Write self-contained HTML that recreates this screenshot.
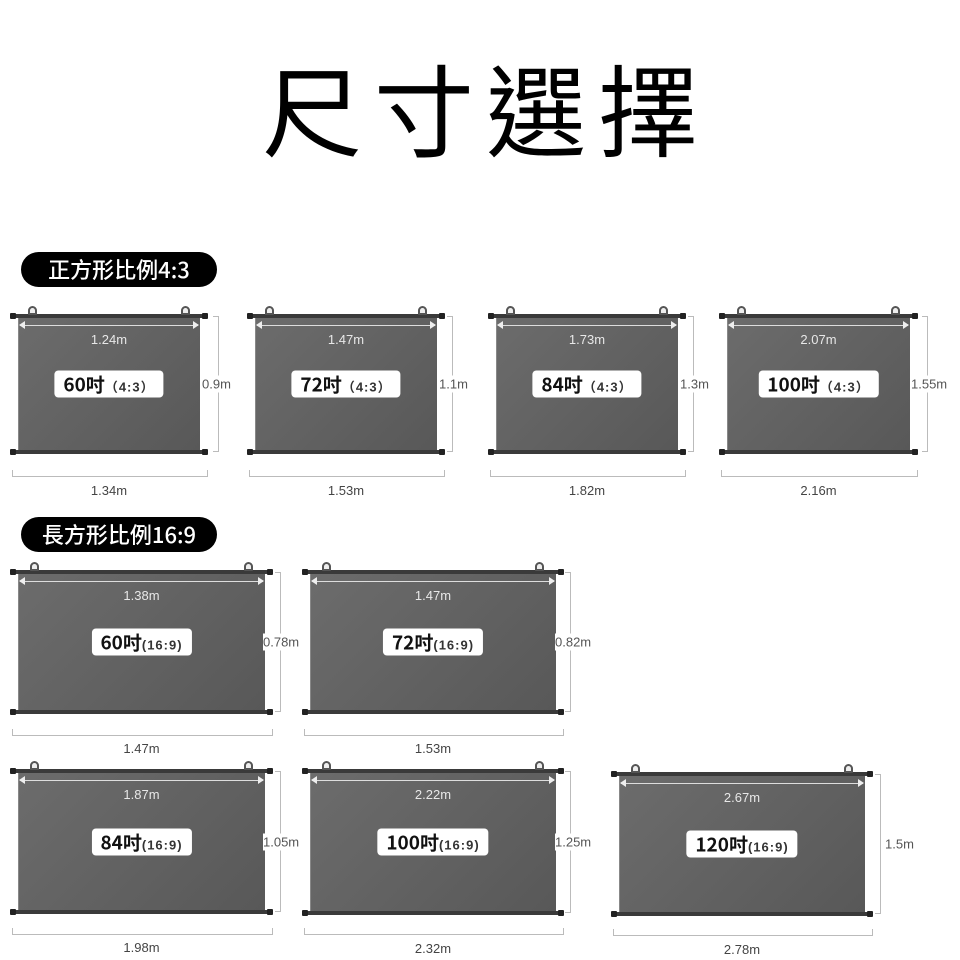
<!DOCTYPE html>
<html><head><meta charset="utf-8">
<style>
*{margin:0;padding:0;box-sizing:border-box}
body{width:960px;height:960px;background:#fff;position:relative;overflow:hidden;font-family:"Liberation Sans","Noto Sans CJK TC",sans-serif}
.title{position:absolute;left:0;top:46px;width:960px;text-align:center;font-family:"Noto Sans CJK TC","WenQuanYi Zen Hei",sans-serif;font-size:100px;line-height:120px;font-weight:400;color:#000;letter-spacing:12px;text-indent:12px}
.tag{position:absolute;left:21px;width:196px;height:35px;border-radius:18px;background:#000;color:#fff;font-family:"Noto Sans CJK TC",sans-serif;font-size:22px;line-height:35px;text-align:center;font-weight:500}
.s{position:absolute}
.bar{position:absolute;left:6px;right:6px;height:4px;background:#3a3a3a}
.cap{position:absolute;width:6px;height:6px;background:#222;border-radius:1px}
.hook{position:absolute;top:-7px;width:9px;height:9px;border:2px solid #555;border-radius:5px 5px 1px 1px;background:#eee}
.panel{position:absolute;left:8px;right:8px;top:3px;bottom:3px;background:linear-gradient(135deg,#6c6c6c,#585858);border-left:1px solid #888}
.arrow{position:absolute;left:10px;right:10px;top:12px;height:1px;background:#ddd}
.arrow:before{content:"";position:absolute;left:-1px;top:-4px;border:4px solid transparent;border-right:6px solid #eee;border-left:0}
.arrow:after{content:"";position:absolute;right:-1px;top:-4px;border:4px solid transparent;border-left:6px solid #eee;border-right:0}
.wl{position:absolute;left:0;right:0;top:19px;text-align:center;color:#e8e8e8;font-size:13px}
.badge{position:absolute;left:50%;top:50%;transform:translate(-50%,-50%);background:#fff;border-radius:4px;height:27px;line-height:27px;padding:0 9px;white-space:nowrap;font-family:"Noto Sans CJK TC",sans-serif;color:#111}
.badge b{font-size:19px;font-weight:700}
.badge i{font-style:normal;font-size:13px;color:#333;font-weight:700;font-family:"Liberation Sans","Noto Sans CJK TC",sans-serif;letter-spacing:1px}
.vl{position:absolute;top:3px;bottom:3px;width:6px;border:1px solid #bbb;border-left:0}
.hl{position:absolute;top:50%;transform:translateY(-50%);background:#fff;color:#555;font-size:13px;padding:1px 0}
.ml{position:absolute;left:2px;right:0;height:7px;border:1px solid #bbb;border-top:0}
.mlt{position:absolute;left:0;right:0;text-align:center;color:#444;font-size:13px}
</style></head><body>
<div class="title">尺寸選擇</div>
<div class="tag" style="top:252px">正方形比例4:3</div>
<div class="tag" style="top:517px">長方形比例16:9</div>

<div class="s" style="left:10px;top:313px;width:198px;height:142px">
 <div class="panel"></div><div class="bar" style="top:1px"></div><div class="bar" style="bottom:1px"></div>
 <div class="cap" style="left:0;top:0"></div><div class="cap" style="right:0;top:0"></div><div class="cap" style="left:0;bottom:0"></div><div class="cap" style="right:0;bottom:0"></div>
 <div class="hook" style="left:18px"></div><div class="hook" style="right:18px"></div>
 <div class="arrow"></div><div class="wl">1.24m</div>
 <div class="badge"><b>60吋</b><i>（4:3）</i></div>
 <div class="vl" style="left:203px"></div><div class="hl" style="left:192px">0.9m</div>
 <div class="ml" style="top:157px"></div><div class="mlt" style="top:170px">1.34m</div>
</div>
<div class="s" style="left:247px;top:313px;width:198px;height:142px">
 <div class="panel"></div><div class="bar" style="top:1px"></div><div class="bar" style="bottom:1px"></div>
 <div class="cap" style="left:0;top:0"></div><div class="cap" style="right:0;top:0"></div><div class="cap" style="left:0;bottom:0"></div><div class="cap" style="right:0;bottom:0"></div>
 <div class="hook" style="left:18px"></div><div class="hook" style="right:18px"></div>
 <div class="arrow"></div><div class="wl">1.47m</div>
 <div class="badge"><b>72吋</b><i>（4:3）</i></div>
 <div class="vl" style="left:200px"></div><div class="hl" style="left:192px">1.1m</div>
 <div class="ml" style="top:157px"></div><div class="mlt" style="top:170px">1.53m</div>
</div>
<div class="s" style="left:488px;top:313px;width:198px;height:142px">
 <div class="panel"></div><div class="bar" style="top:1px"></div><div class="bar" style="bottom:1px"></div>
 <div class="cap" style="left:0;top:0"></div><div class="cap" style="right:0;top:0"></div><div class="cap" style="left:0;bottom:0"></div><div class="cap" style="right:0;bottom:0"></div>
 <div class="hook" style="left:18px"></div><div class="hook" style="right:18px"></div>
 <div class="arrow"></div><div class="wl">1.73m</div>
 <div class="badge"><b>84吋</b><i>（4:3）</i></div>
 <div class="vl" style="left:200px"></div><div class="hl" style="left:192px">1.3m</div>
 <div class="ml" style="top:157px"></div><div class="mlt" style="top:170px">1.82m</div>
</div>
<div class="s" style="left:719px;top:313px;width:199px;height:142px">
 <div class="panel"></div><div class="bar" style="top:1px"></div><div class="bar" style="bottom:1px"></div>
 <div class="cap" style="left:0;top:0"></div><div class="cap" style="right:0;top:0"></div><div class="cap" style="left:0;bottom:0"></div><div class="cap" style="right:0;bottom:0"></div>
 <div class="hook" style="left:18px"></div><div class="hook" style="right:18px"></div>
 <div class="arrow"></div><div class="wl">2.07m</div>
 <div class="badge"><b>100吋</b><i>（4:3）</i></div>
 <div class="vl" style="left:203px"></div><div class="hl" style="left:192px">1.55m</div>
 <div class="ml" style="top:157px"></div><div class="mlt" style="top:170px">2.16m</div>
</div>

<div class="s" style="left:10px;top:569px;width:263px;height:146px">
 <div class="panel"></div><div class="bar" style="top:1px"></div><div class="bar" style="bottom:1px"></div>
 <div class="cap" style="left:0;top:0"></div><div class="cap" style="right:0;top:0"></div><div class="cap" style="left:0;bottom:0"></div><div class="cap" style="right:0;bottom:0"></div>
 <div class="hook" style="left:20px"></div><div class="hook" style="right:20px"></div>
 <div class="arrow"></div><div class="wl">1.38m</div>
 <div class="badge"><b>60吋</b><i>(16:9)</i></div>
 <div class="vl" style="left:265px"></div><div class="hl" style="left:253px">0.78m</div>
 <div class="ml" style="top:160px"></div><div class="mlt" style="top:172px">1.47m</div>
</div>
<div class="s" style="left:302px;top:569px;width:262px;height:146px">
 <div class="panel"></div><div class="bar" style="top:1px"></div><div class="bar" style="bottom:1px"></div>
 <div class="cap" style="left:0;top:0"></div><div class="cap" style="right:0;top:0"></div><div class="cap" style="left:0;bottom:0"></div><div class="cap" style="right:0;bottom:0"></div>
 <div class="hook" style="left:20px"></div><div class="hook" style="right:20px"></div>
 <div class="arrow"></div><div class="wl">1.47m</div>
 <div class="badge"><b>72吋</b><i>(16:9)</i></div>
 <div class="vl" style="left:263px"></div><div class="hl" style="left:253px">0.82m</div>
 <div class="ml" style="top:160px"></div><div class="mlt" style="top:172px">1.53m</div>
</div>

<div class="s" style="left:10px;top:768px;width:263px;height:147px">
 <div class="panel"></div><div class="bar" style="top:1px"></div><div class="bar" style="bottom:1px"></div>
 <div class="cap" style="left:0;top:0"></div><div class="cap" style="right:0;top:0"></div><div class="cap" style="left:0;bottom:0"></div><div class="cap" style="right:0;bottom:0"></div>
 <div class="hook" style="left:20px"></div><div class="hook" style="right:20px"></div>
 <div class="arrow"></div><div class="wl">1.87m</div>
 <div class="badge"><b>84吋</b><i>(16:9)</i></div>
 <div class="vl" style="left:265px"></div><div class="hl" style="left:253px">1.05m</div>
 <div class="ml" style="top:160px"></div><div class="mlt" style="top:172px">1.98m</div>
</div>
<div class="s" style="left:302px;top:768px;width:262px;height:148px">
 <div class="panel"></div><div class="bar" style="top:1px"></div><div class="bar" style="bottom:1px"></div>
 <div class="cap" style="left:0;top:0"></div><div class="cap" style="right:0;top:0"></div><div class="cap" style="left:0;bottom:0"></div><div class="cap" style="right:0;bottom:0"></div>
 <div class="hook" style="left:20px"></div><div class="hook" style="right:20px"></div>
 <div class="arrow"></div><div class="wl">2.22m</div>
 <div class="badge"><b>100吋</b><i>(16:9)</i></div>
 <div class="vl" style="left:263px"></div><div class="hl" style="left:253px">1.25m</div>
 <div class="ml" style="top:160px"></div><div class="mlt" style="top:173px">2.32m</div>
</div>
<div class="s" style="left:611px;top:771px;width:262px;height:146px">
 <div class="panel"></div><div class="bar" style="top:1px"></div><div class="bar" style="bottom:1px"></div>
 <div class="cap" style="left:0;top:0"></div><div class="cap" style="right:0;top:0"></div><div class="cap" style="left:0;bottom:0"></div><div class="cap" style="right:0;bottom:0"></div>
 <div class="hook" style="left:20px"></div><div class="hook" style="right:20px"></div>
 <div class="arrow"></div><div class="wl">2.67m</div>
 <div class="badge"><b>120吋</b><i>(16:9)</i></div>
 <div class="vl" style="left:264px"></div><div class="hl" style="left:274px">1.5m</div>
 <div class="ml" style="top:158px"></div><div class="mlt" style="top:171px">2.78m</div>
</div>
</body></html>
